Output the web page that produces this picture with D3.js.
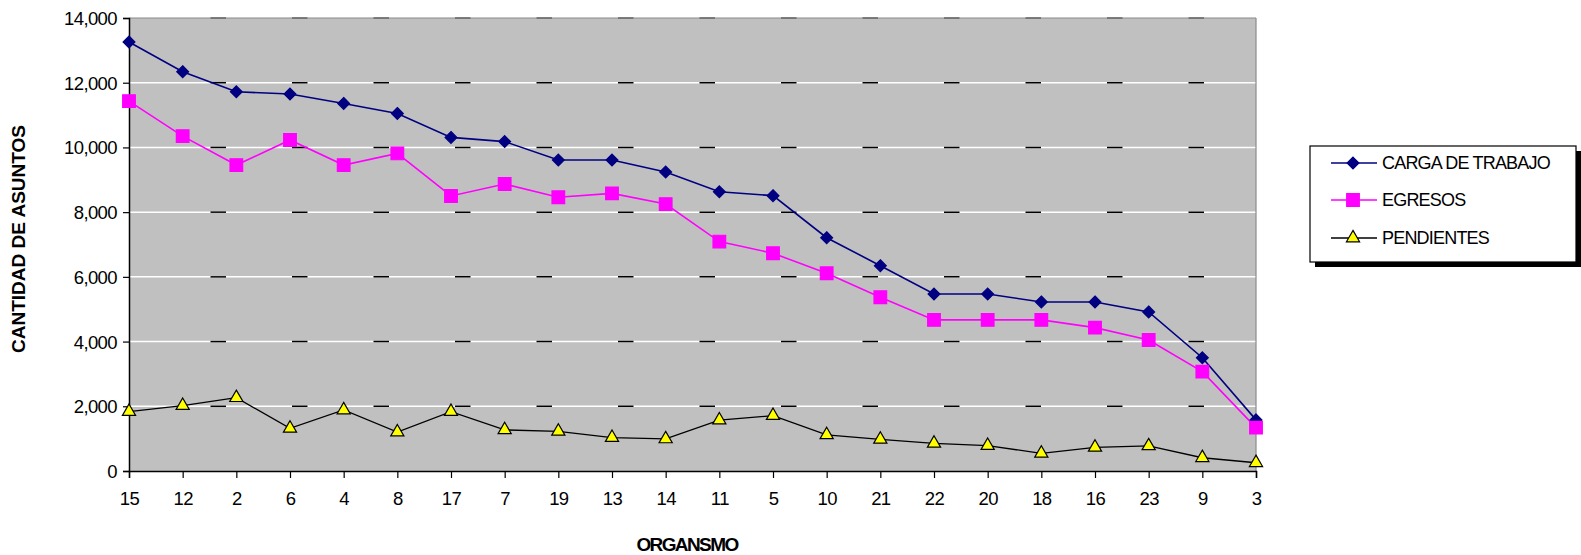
<!DOCTYPE html>
<html>
<head>
<meta charset="utf-8">
<script src="https://cdn.jsdelivr.net/npm/d3@7"></script>
<style>
  html, body { margin: 0; padding: 0; background: #fff; }
  svg { display: block; font-family: "Liberation Sans", Arial, sans-serif; }
</style>
</head>
<body>
<svg id="chart" width="1581" height="555"></svg>
<script>
const categories = ["15","12","2","6","4","8","17","7","19","13","14","11","5","10","21","22","20","18","16","23","9","3"];
const cargaDeTrabajo = [13260,12340,11720,11650,11360,11050,10310,10180,9610,9610,9240,8630,8510,7210,6345,5470,5470,5225,5225,4915,3500,1580];
const egresos = [11430,10350,9455,10230,9455,9815,8500,8870,8460,8580,8250,7090,6730,6110,5370,4670,4670,4670,4430,4050,3070,1340];
const pendientes = [1835,2020,2265,1320,1885,1200,1835,1270,1225,1030,990,1575,1710,1115,980,855,785,545,730,775,410,255];
const yTicks = [0,2000,4000,6000,8000,10000,12000,14000];
const seriesNames = ["CARGA DE TRABAJO","EGRESOS","PENDIENTES"];

const svg = d3.select("#chart");
const L = 129, R = 1256, T = 18, B = 471;

const x = d3.scalePoint().domain(categories).range([L, R]).padding(0);
const y = d3.scaleLinear().domain([0, 14000]).range([B, T]);

// square-ish diamond symbol (rotated square)
const diamondSq = {
  draw(ctx, size) {
    const r = Math.sqrt(size / 2);
    ctx.moveTo(0, -r); ctx.lineTo(r, 0); ctx.lineTo(0, r); ctx.lineTo(-r, 0); ctx.closePath();
  }
};

// plot background
svg.append("rect").attr("x", L).attr("y", T).attr("width", R - L).attr("height", B - T).attr("fill", "#c0c0c0");

// gridlines
const grid = svg.append("g");
yTicks.filter(d => d > 0 && d < 14000).forEach(d => {
  grid.append("line").attr("x1", L).attr("x2", R).attr("y1", y(d)).attr("y2", y(d))
    .attr("stroke", "#ffffff").attr("stroke-width", 1.5);
  grid.append("line").attr("x1", L + 81.5).attr("x2", R).attr("y1", y(d)).attr("y2", y(d))
    .attr("stroke", "#000").attr("stroke-width", 1.5).attr("stroke-dasharray", "15.5,66");
});
// top & right border
svg.append("line").attr("x1", L).attr("x2", R).attr("y1", T).attr("y2", T).attr("stroke", "#8a8a8a").attr("stroke-width", 1.2);
svg.append("line").attr("x1", L + 81.5).attr("x2", R).attr("y1", T).attr("y2", T)
  .attr("stroke", "#666").attr("stroke-width", 1.5).attr("stroke-dasharray", "15.5,66");
svg.append("line").attr("x1", R).attr("x2", R).attr("y1", T).attr("y2", B).attr("stroke", "#8a8a8a").attr("stroke-width", 1.2);

// axes
const yAxis = svg.append("g").attr("transform", `translate(${L},0)`)
  .call(d3.axisLeft(y).tickValues(yTicks).tickFormat(d3.format(",")).tickSize(6).tickPadding(6));
const xAxis = svg.append("g").attr("transform", `translate(0,${B})`)
  .call(d3.axisBottom(x).tickSize(7).tickPadding(14));
[yAxis, xAxis].forEach(a => {
  a.select(".domain").attr("stroke", "#000").attr("stroke-width", 1.5);
  a.selectAll(".tick line").attr("stroke", "#000").attr("stroke-width", 1.2);
  a.selectAll("text").attr("font-size", "18.5px").attr("fill", "#000")
    .attr("font-family", "'Liberation Sans', Arial, sans-serif").attr("letter-spacing", "-0.6px");
});
yAxis.selectAll("text").attr("dy", "0.35em");
xAxis.selectAll("text").attr("dy", "0.71em");

// axis titles
svg.append("text").attr("transform", `translate(25,239) rotate(-90)`).attr("text-anchor", "middle")
  .attr("font-weight", "bold").attr("font-size", "19px").text("CANTIDAD DE ASUNTOS");
svg.append("text").attr("x", 687).attr("y", 551).attr("text-anchor", "middle")
  .attr("font-weight", "bold").attr("font-size", "19px").attr("letter-spacing", "-1.6px").text("ORGANSMO");

// series
const line = d3.line().x((d, i) => x(categories[i])).y(d => y(d));
const styles = [
  { data: cargaDeTrabajo, color: "#000080", width: 1.6, sym: diamondSq, size: 70, fill: "#000080", stroke: "#000080" },
  { data: egresos, color: "#ff00ff", width: 1.6, sym: d3.symbolSquare, size: 160, fill: "#ff00ff", stroke: "#ff00ff" },
  { data: pendientes, color: "#000000", width: 1.3, sym: d3.symbolTriangle, size: 75, fill: "#ffff00", stroke: "#000" }
];
styles.forEach(s => {
  svg.append("path").datum(s.data).attr("d", line).attr("fill", "none")
    .attr("stroke", s.color).attr("stroke-width", s.width);
});
styles.forEach(s => {
  svg.append("g").selectAll("path").data(s.data).join("path")
    .attr("transform", (d, i) => `translate(${x(categories[i])},${y(d)})`)
    .attr("d", d3.symbol().type(s.sym).size(s.size))
    .attr("fill", s.fill).attr("stroke", s.stroke).attr("stroke-width", 1.2);
});

// legend
const lg = svg.append("g");
lg.append("rect").attr("x", 1315).attr("y", 151).attr("width", 266).attr("height", 116).attr("fill", "#000");
lg.append("rect").attr("x", 1310).attr("y", 146).attr("width", 266).attr("height", 116)
  .attr("fill", "#fff").attr("stroke", "#000").attr("stroke-width", 1.2);
const rowY = [163, 200, 238];
styles.forEach((s, i) => {
  lg.append("line").attr("x1", 1331).attr("x2", 1377).attr("y1", rowY[i]).attr("y2", rowY[i])
    .attr("stroke", s.color).attr("stroke-width", s.width);
  lg.append("path").attr("transform", `translate(1353,${rowY[i]})`)
    .attr("d", d3.symbol().type(s.sym).size(s.size)).attr("fill", s.fill).attr("stroke", s.stroke).attr("stroke-width", 1.2);
  lg.append("text").attr("x", 1382).attr("y", rowY[i]).attr("dy", "0.36em")
    .attr("font-size", "18px").attr("letter-spacing", "-0.8px").text(seriesNames[i]);
});
</script>
</body>
</html>
